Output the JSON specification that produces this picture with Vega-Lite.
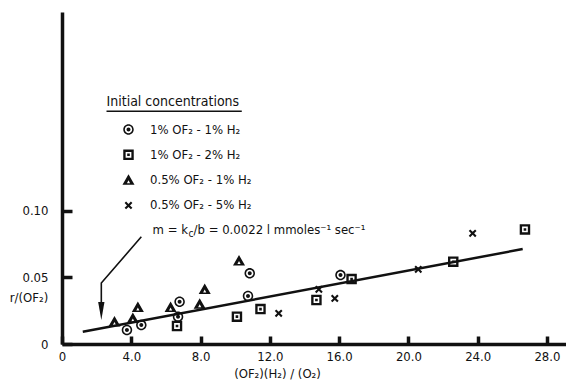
{
  "$schema": "https://vega.github.io/schema/vega-lite/v6.json",
  "width": 504,
  "height": 332,
  "autosize": {"type": "none"},
  "padding": {"left": 62, "top": 12, "right": 0, "bottom": 40},
  "background": "white",
  "config": {
    "view": {"stroke": null},
    "font": "DejaVu Sans Condensed, Liberation Sans Narrow, sans-serif"
  },
  "datasets": {
    "points": [
      {"x": 3.75, "y": 0.0105, "series": "1% OF₂ - 1% H₂"},
      {"x": 4.58, "y": 0.0142, "series": "1% OF₂ - 1% H₂"},
      {"x": 6.70, "y": 0.0205, "series": "1% OF₂ - 1% H₂"},
      {"x": 6.79, "y": 0.0317, "series": "1% OF₂ - 1% H₂"},
      {"x": 10.74, "y": 0.036, "series": "1% OF₂ - 1% H₂"},
      {"x": 10.84, "y": 0.053, "series": "1% OF₂ - 1% H₂"},
      {"x": 16.08, "y": 0.0517, "series": "1% OF₂ - 1% H₂"},
      {"x": 6.64, "y": 0.0135, "series": "1% OF₂ - 2% H₂"},
      {"x": 10.1, "y": 0.0205, "series": "1% OF₂ - 2% H₂"},
      {"x": 11.46, "y": 0.0262, "series": "1% OF₂ - 2% H₂"},
      {"x": 14.69, "y": 0.033, "series": "1% OF₂ - 2% H₂"},
      {"x": 16.72, "y": 0.0487, "series": "1% OF₂ - 2% H₂"},
      {"x": 22.59, "y": 0.0617, "series": "1% OF₂ - 2% H₂"},
      {"x": 26.73, "y": 0.0859, "series": "1% OF₂ - 2% H₂"},
      {"x": 3.03, "y": 0.0167, "series": "0.5% OF₂ - 1% H₂"},
      {"x": 4.09, "y": 0.0193, "series": "0.5% OF₂ - 1% H₂"},
      {"x": 4.38, "y": 0.0275, "series": "0.5% OF₂ - 1% H₂"},
      {"x": 6.27, "y": 0.0275, "series": "0.5% OF₂ - 1% H₂"},
      {"x": 7.95, "y": 0.030, "series": "0.5% OF₂ - 1% H₂"},
      {"x": 8.24, "y": 0.041, "series": "0.5% OF₂ - 1% H₂"},
      {"x": 10.22, "y": 0.0624, "series": "0.5% OF₂ - 1% H₂"},
      {"x": 12.51, "y": 0.023, "series": "0.5% OF₂ - 5% H₂"},
      {"x": 14.83, "y": 0.041, "series": "0.5% OF₂ - 5% H₂"},
      {"x": 15.75, "y": 0.0342, "series": "0.5% OF₂ - 5% H₂"},
      {"x": 20.57, "y": 0.056, "series": "0.5% OF₂ - 5% H₂"},
      {"x": 23.71, "y": 0.083, "series": "0.5% OF₂ - 5% H₂"}
    ],
    "fit": [
      {"x": 1.2, "y": 0.0092},
      {"x": 26.6, "y": 0.0712}
    ],
    "arrow": [
      {"x": 4.58, "y": 0.0804, "o": 1},
      {"x": 2.27, "y": 0.0457, "o": 2},
      {"x": 2.27, "y": 0.024, "o": 3}
    ],
    "arrowhead": [{"x": 2.27, "y": 0.0247}],
    "legendTitle": [{"x": 2.57, "y": 0.1815, "text": "Initial concentrations"}],
    "underline": [{"x": 2.57, "x2": 10.38, "y": 0.1745}],
    "annot": [{"x": 5.23, "y": 0.0854}]
  },
  "encoding": {
    "x": {
      "field": "x",
      "type": "quantitative",
      "scale": {"domain": [0, 29.1], "nice": false, "zero": false},
      "axis": {
        "values": [0, 4, 8, 12, 16, 20, 24, 28],
        "labelExpr": "datum.value == 0 ? '0' : format(datum.value, '.1f')",
        "grid": false,
        "domainWidth": 3.5,
        "domainColor": "#111",
        "tickSize": -8,
        "tickWidth": 3.5,
        "tickColor": "#111",
        "labelPadding": 14,
        "labelFontSize": 13,
        "labelColor": "#111",
        "labelFlush": false,
        "labelOverlap": false,
        "title": "(OF₂)(H₂) / (O₂)",
        "titleX": 215,
        "titleY": 29,
        "titleAlign": "center",
        "titleBaseline": "middle",
        "titleFontSize": 13,
        "titleFontWeight": "normal",
        "titleColor": "#111"
      }
    },
    "y": {
      "field": "y",
      "type": "quantitative",
      "scale": {"domain": [0, 0.249], "nice": false, "zero": false},
      "axis": {
        "values": [0, 0.05, 0.1],
        "labelExpr": "datum.value == 0 ? '0' : format(datum.value, '.2f')",
        "grid": false,
        "domainWidth": 3.5,
        "domainColor": "#111",
        "tickSize": -10,
        "tickWidth": 3.5,
        "tickColor": "#111",
        "labelPadding": 24,
        "labelFontSize": 13,
        "labelColor": "#111",
        "labelFlush": false,
        "labelOverlap": false,
        "title": "r/(OF₂)",
        "titleAngle": 0,
        "titleX": -33.5,
        "titleY": 285,
        "titleAlign": "center",
        "titleBaseline": "middle",
        "titleFontSize": 13,
        "titleFontWeight": "normal",
        "titleColor": "#111"
      }
    }
  },
  "layer": [
    {
      "data": {"name": "fit"},
      "mark": {"type": "line", "color": "#111", "strokeWidth": 2.5},
      "encoding": {}
    },
    {
      "data": {"name": "arrow"},
      "mark": {"type": "line", "color": "#111", "strokeWidth": 1.6},
      "encoding": {"order": {"field": "o", "type": "quantitative"}}
    },
    {
      "data": {"name": "arrowhead"},
      "mark": {"type": "point", "filled": true, "color": "#111", "opacity": 1, "shape": "M-0.35,-1L0.35,-1L0,1Z", "size": 324},
      "encoding": {}
    },
    {
      "data": {"name": "points"},
      "mark": {"type": "point", "filled": true, "color": "#111", "opacity": 1, "strokeWidth": 0, "size": 110},
      "encoding": {
        "shape": {
          "field": "series",
          "type": "nominal",
          "scale": {
            "domain": ["1% OF₂ - 1% H₂", "1% OF₂ - 2% H₂", "0.5% OF₂ - 1% H₂", "0.5% OF₂ - 5% H₂"],
            "range": [
              "M-1,0A1,1 0 1,0 1,0A1,1 0 1,0 -1,0ZM-0.7,0A0.7,0.7 0 1,1 0.7,0A0.7,0.7 0 1,1 -0.7,0ZM-0.38,0A0.38,0.38 0 1,0 0.38,0A0.38,0.38 0 1,0 -0.38,0Z",
              "M-1,-1H1V1H-1ZM-0.55,-0.55V0.55H0.55V-0.55ZM-0.25,-0.25H0.25V0.25H-0.25Z",
              "M0,-1.1L1.15,0.9L-1.15,0.9ZM0,0.05L-0.3,0.6L0.3,0.6Z",
              "M0.46,-0.742L0.742,-0.46L0.283,0L0.742,0.46L0.46,0.742L0,0.283L-0.46,0.742L-0.742,0.46L-0.283,0L-0.742,-0.46L-0.46,-0.742L0,-0.283Z"
            ]
          },
          "legend": {
            "orient": "none",
            "legendX": 60,
            "legendY": 111,
            "title": null,
            "padding": 0,
            "labelFontSize": 13,
            "labelColor": "#111",
            "labelOffset": 15,
            "rowPadding": 11.3,
            "symbolSize": 110,
            "symbolStrokeWidth": 0,
            "symbolFillColor": "#111"
          }
        }
      }
    },
    {
      "data": {"name": "legendTitle"},
      "mark": {"type": "text", "align": "left", "baseline": "middle", "fontSize": 14, "color": "#111"},
      "encoding": {"text": {"field": "text"}}
    },
    {
      "data": {"name": "underline"},
      "mark": {"type": "rule", "color": "#111", "strokeWidth": 1.5},
      "encoding": {"x2": {"field": "x2"}}
    },
    {
      "data": {"name": "annot"},
      "mark": {"type": "text", "align": "left", "baseline": "middle", "fontSize": 13, "color": "#111", "text": "m = k"},
      "encoding": {}
    },
    {
      "data": {"name": "annot"},
      "mark": {"type": "text", "align": "left", "baseline": "middle", "fontSize": 10, "color": "#111", "text": "c", "dx": 36, "dy": 4},
      "encoding": {}
    },
    {
      "data": {"name": "annot"},
      "mark": {"type": "text", "align": "left", "baseline": "middle", "fontSize": 13, "color": "#111", "text": "/b = 0.0022 l mmoles⁻¹ sec⁻¹", "dx": 41},
      "encoding": {}
    }
  ]
}
